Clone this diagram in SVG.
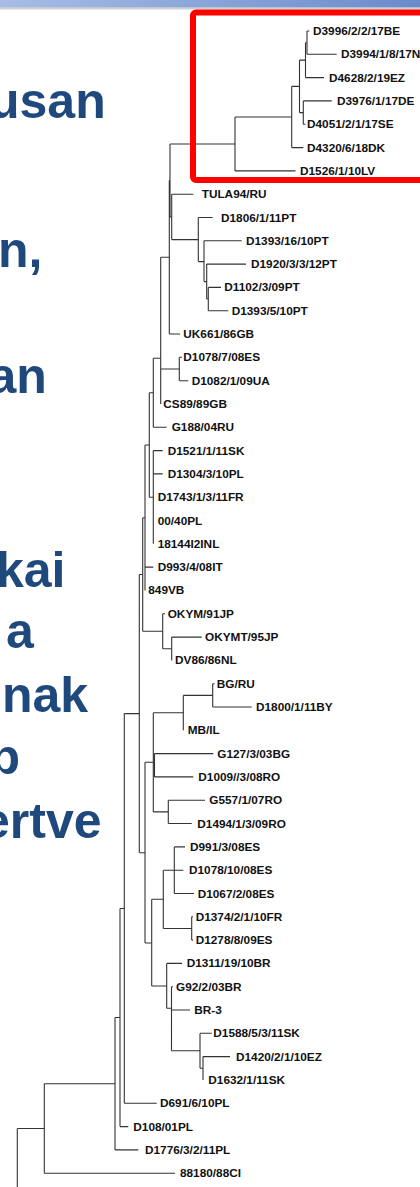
<svg xmlns="http://www.w3.org/2000/svg" width="420" height="1187" viewBox="0 0 420 1187">
<defs>
<linearGradient id="bar" x1="0" y1="0" x2="1" y2="0">
<stop offset="0" stop-color="#a7bde6"/>
<stop offset="1" stop-color="#6a8bcb"/>
</linearGradient>
<linearGradient id="shadow" x1="0" y1="0" x2="0" y2="1">
<stop offset="0" stop-color="#b8b8b8"/>
<stop offset="1" stop-color="#ffffff"/>
</linearGradient>
<style>
.big{font-family:"Liberation Sans",Arial,sans-serif;font-weight:bold;font-size:50px;fill:#1f497d}
.t{font-family:"Liberation Sans",Arial,sans-serif;font-weight:bold;font-size:11.8px;fill:#111}
.ln{fill:none;stroke:#333;stroke-width:1.1}
.box{fill:none;stroke:#ff0000;stroke-width:6}
</style>
</defs>
<rect width="420" height="1187" fill="#ffffff"/>
<rect x="0" y="0" width="420" height="7.5" fill="url(#bar)"/>
<rect x="0" y="7.5" width="420" height="3" fill="url(#shadow)"/>
<g id="slide-text">
<text class="big" x="-11" y="118">usan</text>
<text class="big" x="-2" y="267">n,</text>
<text class="big" x="-11.5" y="393">an</text>
<text class="big" x="-4" y="587">kai</text>
<text class="big" x="6" y="648">a</text>
<text class="big" x="2" y="712">nak</text>
<text class="big" x="-10.5" y="774">p</text>
<text class="big" x="-18" y="838">ertve</text>
</g>
<g id="connectors" class="ln">
<path d="M307 31V54.3 M305.5 42.7V77.6 M303.3 100.9V124.2 M299.5 60.1V112.6 M291.7 86.4V147.6 M235 117V170.9 M170 144V216.9 M171.7 194.2V239.6 M198.3 217.5V261.6 M204 240.8V281.6 M206.7 264.1V299 M208.3 287.4V310.7 M169.3 180.5V334 M179.3 357.3V380.7 M160.7 257.3V404 M153.3 358.3V427.3 M153.3 450.6V543.8 M149.3 392.8V497.2 M145 445V590.4 M162.7 613.8V648.7 M171.7 637.1V660.4 M142.7 517.7V631.3 M212.7 683.7V707 M183.3 695.4V730.3 M154.5 753.6V776.9 M168.3 800.2V823.5 M153.3 712.8V811.9 M174.3 846.9V893.5 M191.7 916.8V940.1 M163.3 870.2V928.5 M203 1056.6V1080 M200 1033.3V1068.3 M171.5 986.7V1050.8 M166.7 963.4V1008.3 M151.7 899.3V986 M145 762.3V943 M139.3 574.5V852.7 M124.3 713.6V1103.3 M120 908.5V1126.6 M115 1017.5V1149.9 M44.3 1083.7V1173.2 M17.3 1128.5V1190"/>
<path d="M307 31H309.3 M307 54.3H336.7 M305.5 42.7H307 M305.5 77.6H324 M299.5 60.1H305.5 M303.3 100.9H331.7 M303.3 124.2H305.5 M299.5 112.6H303.3 M291.7 86.4H299.5 M291.7 147.6H303.3 M235 117H291.7 M235 170.9H295.5 M170 144H235 M171.7 194.2H193.3 M170 216.9H171.7 M198.3 217.5H212.7 M171.7 239.6H198.3 M204 240.8H241.7 M198.3 261.6H204 M206.7 264.1H246 M204 281.6H206.7 M208.3 287.4H221 M208.3 310.7H228.3 M206.7 299H208.3 M169.3 180.5H170 M169.3 334H180 M160.7 257.3H169.3 M179.3 357.3H182 M179.3 380.7H188.3 M160.7 369H179.3 M153.3 358.3H160.7 M153.3 427.3H166.7 M149.3 392.8H153.3 M153.3 450.6H162.7 M153.3 473.9H162.7 M149.3 497.2H153.3 M145 445H149.3 M145 567.1H153.3 M142.7 517.7H145 M162.7 613.8H165 M171.7 637.1H201.7 M162.7 648.7H171.7 M142.7 631.3H162.7 M139.3 574.5H142.7 M212.7 683.7H214.5 M212.7 707H251.7 M183.3 695.4H212.7 M153.3 712.8H183.3 M154.5 753.6H213.3 M154.5 776.9H193.3 M153.3 765.3H154.5 M168.3 800.2H205 M168.3 823.5H191.7 M153.3 811.9H168.3 M145 762.3H153.3 M174.3 846.9H185 M174.3 870.2H183.3 M174.3 893.5H194 M163.3 870.2H174.3 M191.7 916.8H193 M191.7 940.1H193 M163.3 928.5H191.7 M151.7 899.3H163.3 M166.7 963.4H182 M171.5 986.7H173 M171.5 1010H190 M200 1033.3H211.7 M203 1056.6H230 M200 1068.3H203 M171.5 1050.8H200 M166.7 1008.3H171.5 M151.7 986H166.7 M145 943H151.7 M139.3 852.7H145 M124.3 713.6H139.3 M124.3 1103.3H156.7 M120 908.5H124.3 M120 1126.6H128.3 M115 1017.5H120 M115 1149.9H138.3 M44.3 1083.7H115 M44.3 1173.2H175 M17.3 1128.5H44.3"/>
</g>
<g id="n1"><text class="t" x="313" y="35">D3996/2/2/17BE</text></g>
<g id="n2"><text class="t" x="341" y="58.3">D3994/1/8/17N</text></g>
<g id="n3"><text class="t" x="329" y="81.6">D4628/2/19EZ</text></g>
<g id="n4"><text class="t" x="337" y="104.9">D3976/1/17DE</text></g>
<g id="n5"><text class="t" x="307" y="128.2">D4051/2/1/17SE</text></g>
<g id="n6"><text class="t" x="307" y="151.6">D4320/6/18DK</text></g>
<g id="n7"><text class="t" x="300" y="174.9">D1526/1/10LV</text></g>
<g id="n8"><text class="t" x="201.7" y="198.2">TULA94/RU</text></g>
<g id="n9"><text class="t" x="221" y="221.5">D1806/1/11PT</text></g>
<g id="n10"><text class="t" x="246" y="244.8">D1393/16/10PT</text></g>
<g id="n11"><text class="t" x="251" y="268.1">D1920/3/3/12PT</text></g>
<g id="n12"><text class="t" x="224.3" y="291.4">D1102/3/09PT</text></g>
<g id="n13"><text class="t" x="231.7" y="314.7">D1393/5/10PT</text></g>
<g id="n14"><text class="t" x="183.3" y="338">UK661/86GB</text></g>
<g id="n15"><text class="t" x="183.3" y="361.3">D1078/7/08ES</text></g>
<g id="n16"><text class="t" x="191.7" y="384.7">D1082/1/09UA</text></g>
<g id="n17"><text class="t" x="163.3" y="408">CS89/89GB</text></g>
<g id="n18"><text class="t" x="171.7" y="431.3">G188/04RU</text></g>
<g id="n19"><text class="t" x="167.7" y="454.6">D1521/1/11SK</text></g>
<g id="n20"><text class="t" x="167.7" y="477.9">D1304/3/10PL</text></g>
<g id="n21"><text class="t" x="157.7" y="501.2">D1743/1/3/11FR</text></g>
<g id="n22"><text class="t" x="157.7" y="524.5">00/40PL</text></g>
<g id="n23"><text class="t" x="157.7" y="547.8">18144I2INL</text></g>
<g id="n24"><text class="t" x="157.7" y="571.1">D993/4/08IT</text></g>
<g id="n25"><text class="t" x="148.3" y="594.4">849VB</text></g>
<g id="n26"><text class="t" x="167.7" y="617.8">OKYM/91JP</text></g>
<g id="n27"><text class="t" x="205" y="641.1">OKYMT/95JP</text></g>
<g id="n28"><text class="t" x="175" y="664.4">DV86/86NL</text></g>
<g id="n29"><text class="t" x="216.7" y="687.7">BG/RU</text></g>
<g id="n30"><text class="t" x="256" y="711">D1800/1/11BY</text></g>
<g id="n31"><text class="t" x="187.7" y="734.3">MB/IL</text></g>
<g id="n32"><text class="t" x="217.3" y="757.6">G127/3/03BG</text></g>
<g id="n33"><text class="t" x="198.3" y="780.9">D1009//3/08RO</text></g>
<g id="n34"><text class="t" x="209.3" y="804.2">G557/1/07RO</text></g>
<g id="n35"><text class="t" x="197.3" y="827.5">D1494/1/3/09RO</text></g>
<g id="n36"><text class="t" x="190" y="850.9">D991/3/08ES</text></g>
<g id="n37"><text class="t" x="189" y="874.2">D1078/10/08ES</text></g>
<g id="n38"><text class="t" x="197.7" y="897.5">D1067/2/08ES</text></g>
<g id="n39"><text class="t" x="195.7" y="920.8">D1374/2/1/10FR</text></g>
<g id="n40"><text class="t" x="195.7" y="944.1">D1278/8/09ES</text></g>
<g id="n41"><text class="t" x="186.7" y="967.4">D1311/19/10BR</text></g>
<g id="n42"><text class="t" x="176" y="990.7">G92/2/03BR</text></g>
<g id="n43"><text class="t" x="194.3" y="1014">BR-3</text></g>
<g id="n44"><text class="t" x="213.3" y="1037.3">D1588/5/3/11SK</text></g>
<g id="n45"><text class="t" x="236" y="1060.6">D1420/2/1/10EZ</text></g>
<g id="n46"><text class="t" x="208.3" y="1084">D1632/1/11SK</text></g>
<g id="n47"><text class="t" x="160" y="1107.3">D691/6/10PL</text></g>
<g id="n48"><text class="t" x="133.3" y="1130.6">D108/01PL</text></g>
<g id="n49"><text class="t" x="145" y="1153.9">D1776/3/2/11PL</text></g>
<g id="n50"><text class="t" x="180" y="1177.2">88180/88CI</text></g>
<rect id="highlight" class="box" x="193" y="12.5" width="250" height="167.5" rx="3"/>
</svg>
